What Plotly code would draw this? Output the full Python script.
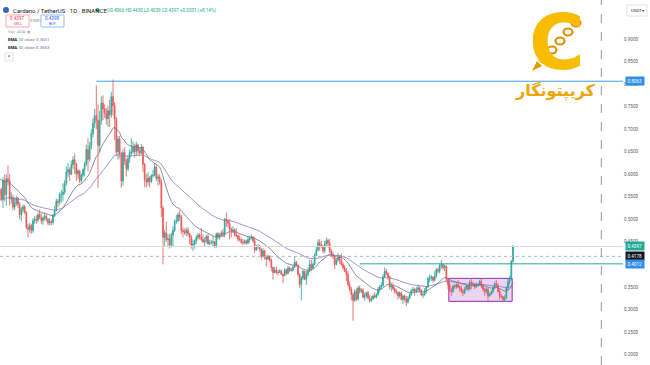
import pandas as pd
import plotly.graph_objects as go

# ---------------- DATA (daily ADA/USDT) ----------------
first_open = 0.377
# each month: list of (close, high, low); open = previous close
dec23 = [(0.390,0.395,0.375),(0.398,0.402,0.385),(0.400,0.410,0.390),(0.405,0.420,0.395),(0.420,0.425,0.395),
         (0.455,0.465,0.415),(0.480,0.495,0.450),(0.540,0.550,0.475),(0.580,0.600,0.530),(0.590,0.610,0.560),
         (0.560,0.600,0.510),(0.605,0.620,0.550),(0.610,0.640,0.580),(0.640,0.655,0.600),(0.620,0.660,0.610),
         (0.630,0.640,0.615),(0.610,0.640,0.600),(0.620,0.625,0.570),(0.590,0.630,0.580),(0.610,0.620,0.585),
         (0.625,0.640,0.605),(0.630,0.650,0.615),(0.630,0.640,0.615),(0.635,0.655,0.620),(0.650,0.660,0.630),
         (0.625,0.660,0.610),(0.660,0.680,0.620),(0.620,0.670,0.610),(0.615,0.640,0.600),(0.605,0.625,0.595),
         (0.595,0.620,0.590)]
jan24 = [(0.620,0.625,0.590),(0.630,0.650,0.615),(0.560,0.635,0.500),(0.575,0.585,0.550),(0.555,0.580,0.540),
         (0.566,0.570,0.545),(0.545,0.570,0.540),(0.585,0.593,0.525),(0.555,0.600,0.540),(0.590,0.600,0.530),
         (0.586,0.620,0.575),(0.545,0.600,0.530),(0.548,0.560,0.535),(0.527,0.555,0.520),(0.536,0.548,0.520),
         (0.547,0.553,0.530),(0.533,0.550,0.525),(0.510,0.538,0.500),(0.522,0.527,0.495),(0.528,0.533,0.515),
         (0.515,0.532,0.512),(0.482,0.518,0.478),(0.478,0.490,0.460),(0.486,0.492,0.470),(0.475,0.490,0.468),
         (0.497,0.503,0.470),(0.500,0.507,0.490),(0.498,0.509,0.490),(0.510,0.515,0.493),(0.505,0.522,0.500),
         (0.497,0.513,0.490)]
feb24 = [(0.503,0.506,0.488),(0.507,0.515,0.497),(0.500,0.510,0.495),(0.492,0.503,0.487),(0.495,0.503,0.486),
         (0.493,0.500,0.487),(0.509,0.512,0.488),(0.520,0.530,0.505),(0.540,0.546,0.517),(0.538,0.545,0.527),
         (0.555,0.560,0.532),(0.555,0.565,0.537),(0.560,0.580,0.540),(0.580,0.587,0.555),(0.605,0.617,0.575),
         (0.610,0.625,0.593),(0.600,0.615,0.585),(0.621,0.630,0.598),(0.632,0.640,0.612),(0.623,0.645,0.600),
         (0.601,0.625,0.585),(0.607,0.612,0.590),(0.586,0.610,0.580),(0.598,0.602,0.580),(0.610,0.613,0.592),
         (0.623,0.628,0.595),(0.655,0.665,0.618),(0.633,0.680,0.606),(0.663,0.672,0.628)]
mar24 = [(0.690,0.700,0.655),(0.713,0.725,0.682),(0.730,0.745,0.703),(0.720,0.797,0.700),(0.664,0.755,0.570),
         (0.718,0.740,0.650),(0.758,0.773,0.710),(0.745,0.775,0.720),(0.735,0.755,0.725),(0.723,0.747,0.710),
         (0.741,0.752,0.705),(0.732,0.765,0.705),(0.772,0.783,0.725),(0.752,0.810,0.730),(0.723,0.760,0.675),
         (0.650,0.727,0.640),(0.678,0.685,0.632),(0.646,0.685,0.635),(0.585,0.650,0.570),(0.648,0.655,0.575),
         (0.629,0.660,0.620),(0.612,0.635,0.595),(0.635,0.642,0.607),(0.648,0.655,0.625),(0.650,0.680,0.640),
         (0.660,0.673,0.645),(0.650,0.668,0.637),(0.665,0.672,0.640),(0.652,0.668,0.644),(0.647,0.660,0.640),
         (0.660,0.667,0.645)]
apr24 = [(0.622,0.662,0.605),(0.588,0.625,0.571),(0.583,0.600,0.571),(0.592,0.605,0.575),(0.584,0.596,0.571),
         (0.597,0.600,0.580),(0.598,0.610,0.592),(0.616,0.625,0.595),(0.591,0.620,0.585),(0.594,0.600,0.575),
         (0.583,0.600,0.577),(0.525,0.590,0.505),(0.460,0.530,0.400),(0.470,0.477,0.440),(0.455,0.495,0.450),
         (0.457,0.467,0.440),(0.443,0.468,0.435),(0.465,0.470,0.438),(0.475,0.484,0.440),(0.495,0.500,0.472),
         (0.497,0.510,0.490),(0.510,0.516,0.493),(0.505,0.520,0.497),(0.475,0.510,0.467),(0.473,0.482,0.460),
         (0.470,0.480,0.465),(0.476,0.482,0.462),(0.468,0.482,0.462),(0.460,0.470,0.445),(0.443,0.465,0.435)]
may24 = [(0.445,0.455,0.430),(0.452,0.455,0.435),(0.460,0.465,0.445),(0.465,0.470,0.455),(0.460,0.470,0.455),
         (0.455,0.480,0.450),(0.450,0.467,0.447),(0.452,0.460,0.440),(0.462,0.466,0.447),(0.446,0.468,0.443),
         (0.448,0.455,0.443),(0.449,0.454,0.444),(0.450,0.463,0.440),(0.440,0.452,0.436),(0.468,0.470,0.437),
         (0.460,0.472,0.455),(0.464,0.470,0.455),(0.470,0.475,0.462),(0.467,0.478,0.460),(0.500,0.503,0.460),
         (0.497,0.515,0.483),(0.491,0.500,0.482),(0.478,0.500,0.455),(0.474,0.482,0.460),(0.477,0.485,0.470),
         (0.465,0.480,0.462),(0.463,0.480,0.460),(0.456,0.467,0.450),(0.455,0.465,0.451),(0.448,0.460,0.446),
         (0.448,0.456,0.442)]
jun24 = [(0.452,0.455,0.445),(0.447,0.455,0.443),(0.455,0.463,0.445),(0.459,0.462,0.448),(0.460,0.467,0.455),
         (0.452,0.463,0.448),(0.432,0.460,0.425),(0.440,0.443,0.430),(0.440,0.445,0.433),(0.434,0.443,0.428),
         (0.418,0.435,0.410),(0.430,0.436,0.415),(0.416,0.432,0.410),(0.412,0.420,0.395),(0.418,0.422,0.409),
         (0.410,0.420,0.405),(0.393,0.413,0.385),(0.382,0.395,0.366),(0.387,0.395,0.380),(0.382,0.395,0.378),
         (0.382,0.388,0.375),(0.386,0.389,0.381),(0.378,0.388,0.376),(0.375,0.380,0.358),(0.388,0.392,0.373),
         (0.380,0.390,0.376),(0.392,0.397,0.378),(0.386,0.395,0.383),(0.387,0.392,0.384),(0.394,0.398,0.385)]
jul24 = [(0.405,0.418,0.392),(0.398,0.408,0.395),(0.378,0.400,0.372),(0.355,0.380,0.348),(0.370,0.374,0.320),
         (0.385,0.388,0.365),(0.367,0.385,0.365),(0.378,0.385,0.355),(0.385,0.393,0.373),(0.400,0.410,0.383),
         (0.392,0.410,0.385),(0.400,0.405,0.387),(0.420,0.425,0.398),(0.433,0.440,0.418),(0.448,0.455,0.428),
         (0.443,0.456,0.430),(0.440,0.452,0.436),(0.430,0.443,0.425),(0.445,0.452,0.425),(0.453,0.460,0.441),
         (0.447,0.456,0.437),(0.430,0.457,0.425),(0.420,0.434,0.416),(0.418,0.428,0.412),(0.400,0.420,0.390),
         (0.410,0.415,0.398),(0.418,0.425,0.405),(0.410,0.420,0.400),(0.400,0.424,0.397),(0.393,0.405,0.388),
         (0.385,0.398,0.383)]
aug24 = [(0.378,0.392,0.363),(0.355,0.385,0.350),(0.345,0.362,0.340),(0.333,0.350,0.320),(0.320,0.337,0.275),
         (0.340,0.345,0.317),(0.323,0.347,0.318),(0.348,0.352,0.320),(0.340,0.353,0.335),(0.343,0.347,0.336),
         (0.327,0.347,0.324),(0.331,0.338,0.320),(0.337,0.340,0.325),(0.326,0.341,0.322),(0.320,0.332,0.315),
         (0.323,0.330,0.316),(0.330,0.333,0.322),(0.327,0.338,0.325),(0.333,0.336,0.324),(0.343,0.350,0.330),
         (0.350,0.355,0.338),(0.353,0.360,0.345),(0.372,0.378,0.350),(0.385,0.393,0.370),(0.380,0.390,0.375),
         (0.372,0.382,0.365),(0.350,0.375,0.345),(0.352,0.360,0.340),(0.346,0.360,0.343),(0.340,0.350,0.335),
         (0.338,0.345,0.333)]
sep24 = [(0.330,0.340,0.322),(0.337,0.340,0.325),(0.322,0.340,0.320),(0.330,0.333,0.313),(0.322,0.333,0.318),
         (0.316,0.330,0.307),(0.325,0.330,0.313),(0.333,0.337,0.322),(0.342,0.345,0.330),(0.345,0.350,0.337),
         (0.340,0.347,0.330),(0.344,0.350,0.337),(0.348,0.355,0.340),(0.342,0.352,0.338),(0.332,0.345,0.330),
         (0.333,0.337,0.325),(0.342,0.348,0.330),(0.350,0.352,0.335),(0.368,0.373,0.348),(0.370,0.378,0.360),
         (0.372,0.376,0.363),(0.365,0.373,0.360),(0.374,0.385,0.362),(0.388,0.392,0.370),(0.385,0.393,0.380),
         (0.398,0.402,0.380),(0.400,0.410,0.390),(0.393,0.402,0.388),(0.396,0.400,0.385),(0.367,0.398,0.360)]
oct24 = [(0.355,0.370,0.345),(0.343,0.360,0.338),(0.340,0.348,0.330),(0.352,0.355,0.337),(0.350,0.356,0.345),
         (0.355,0.358,0.346),(0.350,0.365,0.347),(0.347,0.354,0.340),(0.340,0.353,0.337),(0.337,0.345,0.330),
         (0.345,0.350,0.334),(0.352,0.355,0.343),(0.345,0.354,0.340),(0.360,0.365,0.343),(0.357,0.367,0.345),
         (0.355,0.362,0.350),(0.350,0.358,0.345),(0.355,0.360,0.348),(0.355,0.358,0.350),(0.362,0.366,0.352),
         (0.352,0.368,0.347),(0.345,0.355,0.340),(0.340,0.348,0.330),(0.345,0.350,0.335),(0.330,0.348,0.320),
         (0.335,0.338,0.328),(0.340,0.342,0.332),(0.348,0.352,0.335),(0.357,0.362,0.345),(0.353,0.365,0.348),
         (0.340,0.358,0.337)]
nov24 = [(0.330,0.345,0.322),(0.328,0.335,0.325),(0.322,0.330,0.318),(0.325,0.332,0.317),(0.348,0.352,0.323),
         (0.362,0.368,0.342),(0.370,0.375,0.355),(0.4066,0.410,0.365),(0.4397,0.4430,0.4039)]

months = [("2023-12-01", dec23), ("2024-01-01", jan24), ("2024-02-01", feb24), ("2024-03-01", mar24),
          ("2024-04-01", apr24), ("2024-05-01", may24), ("2024-06-01", jun24), ("2024-07-01", jul24),
          ("2024-08-01", aug24), ("2024-09-01", sep24), ("2024-10-01", oct24), ("2024-11-01", nov24)]

# drawings / levels
top_level = 0.8063
top_level_start = "2024-03-04"
res_level = 0.4012
res_level_start = "2024-08-09"
box_x = ["2024-10-01 12:00", "2024-11-08 12:00"]
box_y = [0.318, 0.369]
marker_price = 0.4178
vline_date = "2025-01-01"
y_ticks = [0.20, 0.25, 0.30, 0.35, 0.45, 0.50, 0.55, 0.60, 0.65, 0.70, 0.75, 0.80, 0.85, 0.90]
bid, ask = 0.4397, 0.4398

# ---------------- build frame ----------------
dates, closes, highs, lows = [], [], [], []
for start, rows in months:
    d = pd.date_range(start, periods=len(rows), freq="D")
    dates.extend(d)
    for c, h, l in rows:
        closes.append(c); highs.append(h); lows.append(l)
opens = [first_open] + closes[:-1]
df = pd.DataFrame({"date": dates, "open": opens, "high": highs, "low": lows, "close": closes})
ema20 = df["close"].ewm(span=20, adjust=False).mean()
ema50 = df["close"].ewm(span=50, adjust=False).mean()

UP, DN = "#26a69a", "#ef5350"
fig = go.Figure()
fig.add_trace(go.Scatter(x=df["date"], y=ema50, mode="lines", line=dict(color="#8a7bb8", width=0.8),
                         hoverinfo="skip", showlegend=False))
fig.add_trace(go.Scatter(x=df["date"], y=ema20, mode="lines", line=dict(color="#6b7387", width=0.8),
                         hoverinfo="skip", showlegend=False))
fig.add_trace(go.Candlestick(x=df["date"], open=df["open"], high=df["high"], low=df["low"], close=df["close"],
                             increasing=dict(line=dict(color=UP, width=0.8), fillcolor=UP),
                             decreasing=dict(line=dict(color=DN, width=0.8), fillcolor=DN),
                             whiskerwidth=0, showlegend=False))

W, H = 623.0, 365.0
def px(x): return x / W
def py(y): return 1 - y / H

last = df.iloc[-1]
shapes = [
    dict(type="line", xref="x", yref="y", x0=top_level_start, x1="2025-01-20", y0=top_level, y1=top_level,
         line=dict(color="#3d9be9", width=1)),
    dict(type="line", xref="x", yref="y", x0=res_level_start, x1="2025-01-20", y0=res_level, y1=res_level,
         line=dict(color="#22ab94", width=1)),
    dict(type="line", xref="paper", yref="y", x0=0, x1=1, y0=last["close"], y1=last["close"],
         line=dict(color="#d8dadf", width=1)),
    dict(type="line", xref="paper", yref="y", x0=0, x1=1, y0=marker_price, y1=marker_price,
         line=dict(color="#b2b5be", width=1, dash="dot")),
    dict(type="line", xref="x", yref="paper", x0=vline_date, x1=vline_date, y0=0, y1=1,
         line=dict(color="#9598a1", width=1, dash="dash")),
    dict(type="rect", xref="x", yref="y", x0=box_x[0], x1=box_x[1], y0=box_y[0], y1=box_y[1],
         line=dict(color="#9c27b0", width=1), fillcolor="rgba(156,39,176,0.2)", layer="below"),
    # header buttons
    dict(type="rect", xref="paper", yref="paper", x0=px(6), x1=px(29), y0=py(27), y1=py(15),
         line=dict(color="#f7a9a7", width=1), fillcolor="white"),
    dict(type="rect", xref="paper", yref="paper", x0=px(41), x1=px(64), y0=py(27), y1=py(15),
         line=dict(color="#90bff9", width=1), fillcolor="white"),
    dict(type="rect", xref="paper", yref="paper", x0=px(5), x1=px(13), y0=py(61), y1=py(53),
         line=dict(color="#e0e3eb", width=1), fillcolor="white"),
    dict(type="circle", xref="paper", yref="paper", x0=px(3), x1=px(9), y0=py(13), y1=py(7),
         line=dict(width=0), fillcolor="#3d5ecf"),
    dict(type="circle", xref="paper", yref="paper", x0=px(95.5), x1=px(99.5), y0=py(12), y1=py(8),
         line=dict(width=0), fillcolor="#22ab94"),
    # USDT box
    dict(type="rect", xref="paper", yref="paper", x0=px(627), x1=px(647), y0=py(16), y1=py(5),
         line=dict(color="#e0e3eb", width=1), fillcolor="white"),
]
# logo chain links (drawn across the C diagonally)
for cx, cy in [(576, 23), (568, 32), (560, 41), (552, 50), (544, 59)]:
    shapes.append(dict(type="circle", xref="paper", yref="paper", x0=px(cx - 4.5), x1=px(cx + 4.5),
                       y0=py(cy + 3.5), y1=py(cy - 3.5), line=dict(color="#dd9000", width=2.2),
                       fillcolor="rgba(0,0,0,0)"))
# arrow tip at lower-left of chain
shapes.append(dict(type="path", xref="paper", yref="paper",
                   path=f"M {px(532)} {py(71)} L {px(542)} {py(66)} L {px(537)} {py(61)} Z",
                   fillcolor="#e39a05", line=dict(width=0)))

ann = []
def t(x, y, s, size=5, color="#131722", anchor="left", **kw):
    ann.append(dict(xref="paper", yref="paper", x=px(x), y=py(y), text=s, showarrow=False,
                    xanchor=anchor, yanchor="middle", font=dict(size=size, color=color, family="Roboto"), **kw))

chg = last["close"] - last["open"]
t(11, 10, "Cardano / TetherUS · 1D · BINANCE", size=6)
t(105, 10, f"O{last['open']:.4f} H{last['high']:.4f} L{last['low']:.4f} C{last['close']:.4f} "
           f"+{chg:.4f} (+{chg / last['open'] * 100:.2f}%)", size=4.6, color="#22ab94")
t(17.5, 18.5, f"{bid:.4f}", size=4.6, color="#f23645", anchor="center")
t(17.5, 24, "SELL", size=3.6, color="#f23645", anchor="center")
t(35, 21, f"{ask - bid:.4f}", size=3.6, color="#787b86", anchor="center")
t(52.5, 18.5, f"{ask:.4f}", size=4.6, color="#2962ff", anchor="center")
t(52.5, 24, "BUY", size=3.6, color="#2962ff", anchor="center")
t(6, 32, "Vol · ADA  ◉", size=4.2, color="#9598a1")
t(6, 39.5, f"<b>EMA</b> <span style='color:#787b86'>20 close</span> "
           f"<span style='color:#5b7bd5'>{ema20.iloc[-1]:.4f}</span>", size=4.4)
t(6, 47, f"<b>EMA</b> <span style='color:#787b86'>50 close</span> "
         f"<span style='color:#7e57c2'>{ema50.iloc[-1]:.4f}</span>", size=4.4)
t(9, 57, "^", size=5, color="#131722", anchor="center")
t(629, 10.5, "USDT ▾", size=4.2, color="#131722")
# logo
ann.append(dict(xref="paper", yref="paper", x=px(557), y=py(43), text="<b>C</b>", showarrow=False,
                font=dict(size=76, color="#f8bd00", family="DejaVu Sans"), xanchor="center", yanchor="middle"))
ann.append(dict(xref="paper", yref="paper", x=px(555), y=py(91), text="<b>کریپتونگار</b>", showarrow=False,
                font=dict(size=16, color="#f0a400", family="DejaVu Sans"), xanchor="center", yanchor="middle"))

# axis price labels
def plabel(v, txt, bg):
    ann.append(dict(xref="paper", yref="y", x=1, y=v, text=txt, showarrow=False, xanchor="left", xshift=2,
                    yanchor="middle", bgcolor=bg, borderpad=1.5,
                    font=dict(size=4.6, color="white", family="Roboto")))
plabel(top_level, f"{top_level:.4f}", "#2e8ee8")
plabel(last["close"], f"{last['close']:.4f}", "#22ab94")
plabel(marker_price, f"{marker_price:.4f}", "#131722")
plabel(res_level, f"{res_level:.4f}", "#2e8ee8")

fig.update_layout(
    width=650, height=365, autosize=False,
    margin=dict(l=0, r=27, t=0, b=0, pad=0, autoexpand=False),
    paper_bgcolor="white", plot_bgcolor="white",
    shapes=shapes, annotations=ann, showlegend=False,
    xaxis=dict(range=["2024-01-06 05:00", "2025-01-14"], visible=False, rangeslider=dict(visible=False),
               showgrid=False, automargin=False),
    yaxis=dict(range=[0.1768, 0.9865], side="right", tickvals=y_ticks, automargin=False,
               ticktext=[f"{v:.4f}" for v in y_ticks], tickfont=dict(size=4.6, color="#5d606b", family="Roboto"),
               showgrid=False, zeroline=False, ticks="", showline=False),
)
fig.write_html("out.html", config={"displayModeBar": False},
               post_script="document.body.style.margin='0';document.body.style.overflow='hidden';")
